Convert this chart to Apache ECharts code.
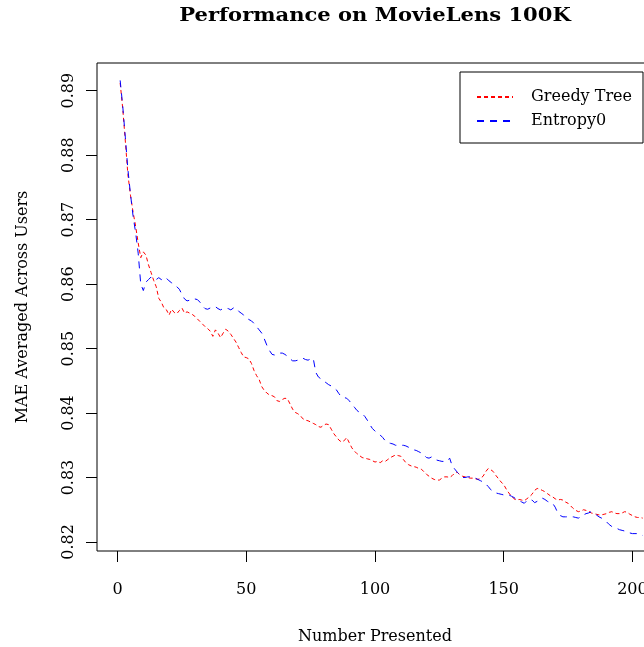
<!DOCTYPE html>
<html>
<head>
<meta charset="utf-8">
<script src="https://cdn.jsdelivr.net/npm/echarts@6/dist/echarts.min.js"></script>
<style>
  html, body { margin: 0; padding: 0; background: #fff; }
  #chart { width: 644px; height: 647px; }
</style>
</head>
<body>
<div id="chart"></div>
<script>
// Mean absolute error after each number of presented items (x = 1, 2, 3, ...)
const greedyTree = [
  0.8912, 0.8872, 0.8822, 0.8770, 0.8738, 0.8712, 0.8690, 0.8664, 0.8641, 0.8650,
  0.8645, 0.8630, 0.8618, 0.8606, 0.8596, 0.8578, 0.8572, 0.8563, 0.8560, 0.8552,
  0.8561, 0.8556, 0.8554, 0.8559, 0.8563, 0.8555, 0.8557, 0.8555, 0.8553, 0.8550,
  0.8546, 0.8542, 0.8538, 0.8534, 0.8531, 0.8527, 0.8519, 0.8529, 0.8524, 0.8517,
  0.8524, 0.8530, 0.8527, 0.8522, 0.8516, 0.8510, 0.8502, 0.8494, 0.8487, 0.8486,
  0.8484, 0.8477, 0.8466, 0.8458, 0.8452, 0.8441, 0.8435, 0.8431, 0.8428, 0.8427,
  0.8425, 0.8419, 0.8418, 0.8421, 0.8423, 0.8422, 0.8414, 0.8406, 0.8401, 0.8399,
  0.8396, 0.8391, 0.8389, 0.8388, 0.8386, 0.8384, 0.8382, 0.8379, 0.8378, 0.8381,
  0.8383, 0.8382, 0.8375, 0.8368, 0.8363, 0.8358, 0.8355, 0.8357, 0.8362, 0.8354,
  0.8346, 0.8341, 0.8337, 0.8334, 0.8331, 0.8330, 0.8329, 0.8328, 0.8326, 0.8324,
  0.8325, 0.8323, 0.8326, 0.8325, 0.8328, 0.8331, 0.8333, 0.8335, 0.8334, 0.8333,
  0.8328, 0.8323, 0.8320, 0.8318, 0.8317, 0.8316, 0.8314, 0.8313, 0.8309, 0.8305,
  0.8302, 0.8299, 0.8297, 0.8296, 0.8296, 0.8299, 0.8301, 0.8301, 0.8300, 0.8303,
  0.8307, 0.8308, 0.8304, 0.8302, 0.8301, 0.8300, 0.8299, 0.8299, 0.8298, 0.8297,
  0.8299, 0.8302, 0.8309, 0.8314, 0.8312, 0.8309, 0.8303, 0.8298, 0.8293, 0.8289,
  0.8282, 0.8276, 0.8271, 0.8267, 0.8265, 0.8266, 0.8265, 0.8264, 0.8267, 0.8270,
  0.8274, 0.8280, 0.8283, 0.8282, 0.8280, 0.8278, 0.8275, 0.8272, 0.8270, 0.8267,
  0.8265, 0.8266, 0.8265, 0.8262, 0.8260, 0.8256, 0.8252, 0.8249, 0.8247, 0.8248,
  0.8250, 0.8249, 0.8248, 0.8245, 0.8244, 0.8243, 0.8242, 0.8242, 0.8243, 0.8244,
  0.8246, 0.8247, 0.8245, 0.8244, 0.8244, 0.8245, 0.8247, 0.8246, 0.8243, 0.8241,
  0.8239, 0.8238, 0.8238, 0.8237
];

const entropy0 = [
  0.8916, 0.8876, 0.8828, 0.8778, 0.8740, 0.8706, 0.8680, 0.8648, 0.8600, 0.8590,
  0.8603, 0.8607, 0.8611, 0.8608, 0.8607, 0.8610, 0.8607, 0.8611, 0.8609, 0.8605,
  0.8602, 0.8600, 0.8596, 0.8592, 0.8584, 0.8577, 0.8574, 0.8575, 0.8575, 0.8577,
  0.8576, 0.8572, 0.8566, 0.8562, 0.8561, 0.8563, 0.8564, 0.8565, 0.8562, 0.8560,
  0.8562, 0.8563, 0.8562, 0.8560, 0.8563, 0.8563, 0.8558, 0.8555, 0.8552, 0.8548,
  0.8545, 0.8543, 0.8539, 0.8534, 0.8529, 0.8524, 0.8515, 0.8505, 0.8497, 0.8491,
  0.8490, 0.8492, 0.8493, 0.8493, 0.8491, 0.8488, 0.8484, 0.8481, 0.8481, 0.8482,
  0.8484, 0.8485, 0.8483, 0.8482, 0.8484, 0.8485, 0.8463, 0.8456, 0.8453, 0.8450,
  0.8447, 0.8444, 0.8442, 0.8439, 0.8436, 0.8430, 0.8425, 0.8424, 0.8423, 0.8419,
  0.8414, 0.8409, 0.8404, 0.8401, 0.8399, 0.8395, 0.8389, 0.8382, 0.8376, 0.8372,
  0.8369, 0.8366, 0.8362, 0.8357, 0.8354, 0.8353, 0.8352, 0.8350, 0.8350, 0.8350,
  0.8350, 0.8349, 0.8347, 0.8345, 0.8343, 0.8342, 0.8340, 0.8338, 0.8335, 0.8331,
  0.8330, 0.8332, 0.8330, 0.8327, 0.8326, 0.8325, 0.8325, 0.8325, 0.8330, 0.8318,
  0.8313, 0.8308, 0.8304, 0.8300, 0.8300, 0.8301, 0.8301, 0.8301, 0.8299, 0.8297,
  0.8295, 0.8293, 0.8290, 0.8286, 0.8281, 0.8278, 0.8276, 0.8275, 0.8274, 0.8273,
  0.8273, 0.8273, 0.8271, 0.8269, 0.8266, 0.8264, 0.8262, 0.8260, 0.8264, 0.8266,
  0.8265, 0.8261, 0.8263, 0.8266, 0.8268, 0.8266, 0.8263, 0.8261, 0.8260, 0.8254,
  0.8245, 0.8241, 0.8239, 0.8239, 0.8239, 0.8239, 0.8239, 0.8238, 0.8237, 0.8239,
  0.8242, 0.8244, 0.8245, 0.8247, 0.8245, 0.8242, 0.8239, 0.8237, 0.8234, 0.8231,
  0.8227, 0.8224, 0.8222, 0.8221, 0.8219, 0.8218, 0.8217, 0.8216, 0.8214, 0.8213,
  0.8213, 0.8213, 0.8212, 0.8210
];

const xTicks = [0, 50, 100, 150, 200];
const yTicks = [0.82, 0.83, 0.84, 0.85, 0.86, 0.87, 0.88, 0.89];

const FONT = 'DejaVu Serif';

function pairs(values) {
  return values.map((v, i) => [i + 1, v]);
}

const chart = echarts.init(document.getElementById('chart'), null, { renderer: 'canvas' });

chart.setOption({
  animation: false,
  backgroundColor: '#ffffff',
  graphic: [
    {
      // bold, slightly widened heading centred over the plot region
      type: 'text',
      x: 375,
      y: 16,
      scaleX: 1.17,
      style: {
        text: 'Performance on MovieLens 100K',
        fontFamily: FONT,
        fontWeight: 'bold',
        fontSize: 18,
        fill: '#000',
        align: 'center',
        verticalAlign: 'middle'
      }
    }
  ],
  grid: {
    left: 97, top: 63, width: 556, height: 488,
    outerBoundsMode: 'none',
    containLabel: false,
    show: true, borderColor: '#000', borderWidth: 1, backgroundColor: 'transparent'
  },
  legend: {
    data: ['Greedy Tree', 'Entropy0'],
    orient: 'vertical',
    right: 1,
    top: 72,
    backgroundColor: '#fff',
    borderColor: '#000',
    borderWidth: 1,
    borderRadius: 0,
    padding: [17, 11, 14, 16],
    itemWidth: 36,
    itemHeight: 14,
    itemGap: 8,
    itemStyle: { opacity: 0 },
    textStyle: { fontFamily: FONT, fontSize: 16, color: '#000', padding: [0, 0, 0, 13] }
  },
  xAxis: {
    type: 'value',
    min: -8,
    max: 208,
    axisLine: { show: false, onZero: false },
    splitLine: { show: false },
    axisTick: { show: true, length: 11, customValues: xTicks, lineStyle: { color: '#000' } },
    axisLabel: {
      customValues: xTicks,
      margin: 31,
      fontFamily: FONT, fontSize: 16, color: '#000'
    },
    name: 'Number Presented',
    nameLocation: 'middle',
    nameGap: 78,
    nameTextStyle: { fontFamily: FONT, fontSize: 16, color: '#000' }
  },
  yAxis: {
    type: 'value',
    min: 0.8186,
    max: 0.8943,
    axisLine: { show: false, onZero: false },
    splitLine: { show: false },
    axisTick: { show: true, length: 11, customValues: yTicks, lineStyle: { color: '#000' } },
    axisLabel: {
      customValues: yTicks,
      rotate: 90,
      margin: 20,
      formatter: v => v.toFixed(2),
      fontFamily: FONT, fontSize: 16, color: '#000'
    },
    name: 'MAE Averaged Across Users',
    nameLocation: 'middle',
    nameRotate: 90,
    nameGap: 66,
    nameTextStyle: { fontFamily: FONT, fontSize: 16, color: '#000' }
  },
  series: [
    {
      name: 'Greedy Tree',
      type: 'line',
      data: pairs(greedyTree),
      showSymbol: false,
      symbol: 'none',
      color: '#ff0000',
      lineStyle: { color: '#ff0000', width: 1, type: [4, 3] }
    },
    {
      name: 'Entropy0',
      type: 'line',
      data: pairs(entropy0),
      showSymbol: false,
      symbol: 'none',
      color: '#0000ff',
      lineStyle: { color: '#0000ff', width: 1, type: [7, 6] }
    }
  ]
});
</script>
</body>
</html>
